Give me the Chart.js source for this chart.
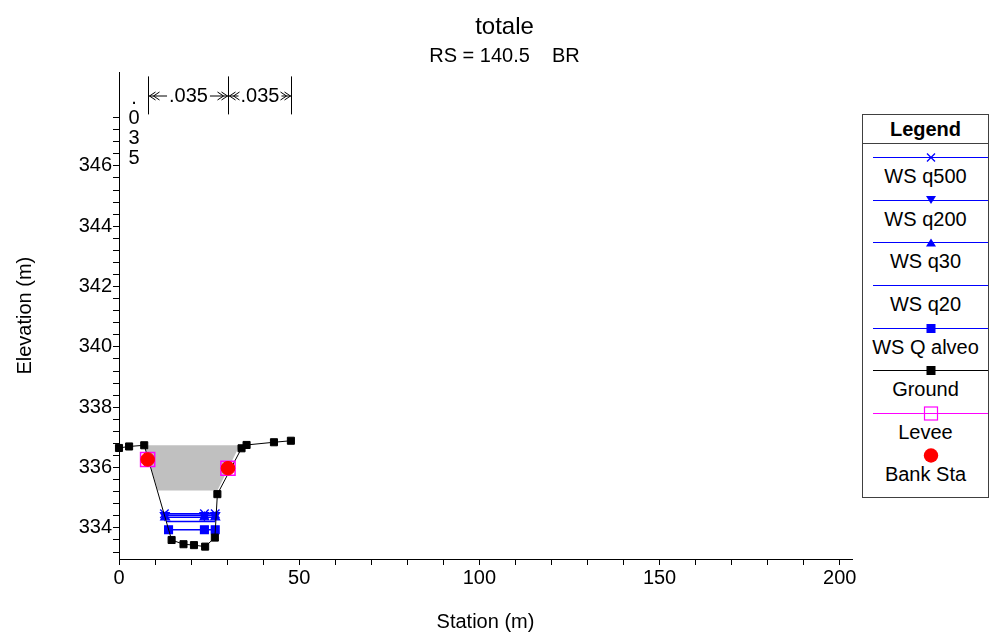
<!DOCTYPE html>
<html>
<head>
<meta charset="utf-8">
<title>totale</title>
<script src="https://cdn.jsdelivr.net/npm/chart.js@4.4.0/dist/chart.umd.min.js"></script>
<style>
  html, body { margin: 0; padding: 0; background: #fff; }
  #wrap { position: relative; width: 999px; height: 635px; }
  #xs { position: absolute; left: 0; top: 0; }
  #legend {
    position: absolute; left: 862px; top: 114px; width: 127px; height: 384px;
    box-sizing: border-box; border: 1px solid #404040; background: #fff;
    font-family: "Liberation Sans", Arial, sans-serif; font-size: 20px; color: #000;
  }
  #legend .head {
    position: absolute; left: 0; right: 0; top: 0; height: 28px; line-height: 28px;
    text-align: center; font-weight: bold; border-bottom: 1px solid #404040;
  }
  #legend svg { position: absolute; left: 0; }
  #legend .txt { position: absolute; left: 0; right: 0; height: 24px; line-height: 24px; text-align: center; white-space: nowrap; }
</style>
</head>
<body>
<div id="wrap">
  <canvas id="xs" width="999" height="635"></canvas>
  <div id="legend"><div class="head">Legend</div></div>
</div>
<script>
const FONT = '"Liberation Sans", Arial, sans-serif';

// ground profile (station m, elevation m)
const groundSta  = [0, 2.8, 7.0, 14.6, 17.9, 20.8, 23.9, 26.6, 27.3, 34.0, 35.4, 43.0, 47.7];
const groundElev = [336.65, 336.70, 336.74, 333.60, 333.46, 333.43, 333.38, 333.68, 335.12, 336.64, 336.75, 336.84, 336.89];

// bridge deck outline (grey area)
const deckSta  = [7.0, 33.5, 27.3, 10.8];
const deckElev = [336.74, 336.74, 335.24, 335.24];

// water surfaces
const wsNames = ['WS q500', 'WS q200', 'WS q30', 'WS q20', 'WS Q alveo'];
const wsElev  = [334.47, 334.42, 334.35, 334.21, 333.94];
const wsSta   = [
  [12.6, 23.7, 26.7],
  [12.7, 23.7, 26.7],
  [12.8, 23.7, 26.7],
  [13.1, 23.7, 26.7],
  [13.75, 23.7, 26.7]
];

const leveeSta  = [7.95, 30.24];
const leveeElev = [336.27, 335.98];
const bankSta   = [7.95, 30.24];
const bankElev  = [336.27, 335.98];

// manning n regions
const nBreaks = [0, 7.95, 30.24, 47.7];
const nValues = ['.035', '.035', '.035'];

// axes
const xTickLabels = [0, 50, 100, 150, 200];
const yTickLabels = [334, 336, 338, 340, 342, 344, 346];

const xTicks = [];
for (let v = 0; v <= 200; v += 10) xTicks.push(v);
const yTicks = [];
for (let v = 333.2; v <= 347.61; v += 0.4) yTicks.push(Math.round(v * 10) / 10);

const pts = (xs, ys) => xs.map((x, i) => ({ x: x, y: Array.isArray(ys) ? ys[i] : ys }));

const wsStyles = [
  { pointStyle: 'crossRot', pointRadius: 6, rotation: 0 },
  { pointStyle: 'triangle', pointRadius: 5, rotation: 180 },
  { pointStyle: 'triangle', pointRadius: 5, rotation: 0 },
  { pointStyle: 'circle', pointRadius: 0, rotation: 0 },
  { pointStyle: 'rect', pointRadius: 5.5, rotation: 0 }
];

const datasets = [];
datasets.push({
  label: 'Bank Sta', data: pts(bankSta, bankElev), showLine: false,
  pointStyle: 'circle', pointRadius: 6.8, backgroundColor: '#ff0000', borderColor: '#ff0000',
  order: 0, clip: false
});
datasets.push({
  label: 'Levee', data: pts(leveeSta, leveeElev), showLine: false,
  pointStyle: 'rect', pointRadius: 10, backgroundColor: 'rgba(0,0,0,0)', borderColor: '#ff00ff',
  pointBorderWidth: 1.5, order: 1, clip: false
});
datasets.push({
  label: 'Ground', data: pts(groundSta, groundElev), borderColor: '#000', borderWidth: 1,
  pointStyle: 'rect', pointRadius: 5, backgroundColor: '#000', pointBorderWidth: 1,
  order: 2, clip: false
});
wsNames.forEach((name, i) => {
  datasets.push({
    label: name, data: pts(wsSta[i], wsElev[i]), borderColor: '#0000ff', borderWidth: 1.5,
    backgroundColor: '#0000ff', pointBorderWidth: 1.3,
    pointStyle: wsStyles[i].pointStyle, pointRadius: wsStyles[i].pointRadius,
    pointRotation: wsStyles[i].rotation, order: 3 + i, clip: false
  });
});
datasets.push({
  label: 'deck', data: pts(deckSta, deckElev), borderWidth: 0, borderColor: 'rgba(0,0,0,0)',
  backgroundColor: '#c0c0c0', fill: 'shape', pointRadius: 0, order: 20
});

// manning n labels across the top
const nLabelPlugin = {
  id: 'nLabels',
  afterDraw(chart) {
    const { ctx, chartArea, scales: { x } } = chart;
    const top = chartArea.top + 4, bot = chartArea.top + 42, midY = chartArea.top + 23.6;
    ctx.save();
    ctx.strokeStyle = '#000';
    ctx.fillStyle = '#000';
    ctx.lineWidth = 1;
    ctx.font = '20px ' + FONT;
    ctx.textAlign = 'center';
    ctx.textBaseline = 'middle';
    nBreaks.forEach(s => {
      const px = Math.round(x.getPixelForValue(s)) + 0.5;
      ctx.beginPath(); ctx.moveTo(px, top); ctx.lineTo(px, bot); ctx.stroke();
    });
    nValues.forEach((lab, i) => {
      const x0 = Math.round(x.getPixelForValue(nBreaks[i])) + 0.5;
      const x1 = Math.round(x.getPixelForValue(nBreaks[i + 1])) + 0.5;
      const w = ctx.measureText(lab).width;
      const cx = (x0 + x1) / 2;
      if (x1 - x0 > w + 16) {
        ctx.fillText(lab, cx, midY);
        const a = cx - w / 2 - 2, b = cx + w / 2 + 2;
        ctx.beginPath();
        ctx.moveTo(x0, midY); ctx.lineTo(a, midY);
        ctx.moveTo(b, midY); ctx.lineTo(x1, midY);
        [1, 5].forEach(k => {
          ctx.moveTo(x0 + k + 6, midY - 4); ctx.lineTo(x0 + k, midY); ctx.lineTo(x0 + k + 6, midY + 4);
          ctx.moveTo(x1 - k - 6, midY - 4); ctx.lineTo(x1 - k, midY); ctx.lineTo(x1 - k - 6, midY + 4);
        });
        ctx.stroke();
      } else {
        lab.split('').forEach((ch, j) => {
          ctx.fillText(ch, cx, chartArea.top + 25.6 + j * 20);
        });
      }
    });
    ctx.restore();
  }
};

const axisFont = { family: FONT, size: 20 };

new Chart(document.getElementById('xs'), {
  type: 'line',
  data: { datasets: datasets },
  options: {
    responsive: false,
    animation: false,
    devicePixelRatio: 1,
    layout: { padding: { left: 10, right: 0, top: 0, bottom: 0 } },
    plugins: {
      legend: { display: false },
      tooltip: { enabled: false },
      title: {
        display: true, text: 'totale', color: '#000',
        font: { family: FONT, size: 24, weight: 'normal' },
        padding: { top: 12.6, bottom: 0 }
      },
      subtitle: {
        display: true, text: 'RS = 140.5    BR', color: '#000',
        font: { family: FONT, size: 20, weight: 'normal' },
        padding: { top: 2.6, bottom: 4.4 }
      }
    },
    scales: {
      x: {
        type: 'linear', min: 0, max: 203.4,
        afterFit: s => { s.height = 76; },
        afterBuildTicks: s => { s.ticks = xTicks.map(v => ({ value: v })); },
        ticks: {
          autoSkip: false, maxRotation: 0, padding: 1, color: '#000', font: axisFont,
          callback: v => xTickLabels.includes(v) ? String(v) : ''
        },
        grid: { drawOnChartArea: false, drawTicks: true, tickLength: 6, color: '#000' },
        border: { display: true, color: '#000', width: 1 },
        title: { display: true, text: 'Station (m)', color: '#000', font: axisFont, padding: { top: 0, bottom: 1 } }
      },
      y: {
        type: 'linear', min: 332.97, max: 349.1,
        afterFit: s => { s.width = 109; },
        afterBuildTicks: s => { s.ticks = yTicks.map(v => ({ value: v })); },
        ticks: {
          autoSkip: false, padding: 1, color: '#000', font: axisFont,
          callback: v => yTickLabels.includes(Math.round(v * 10) / 10) ? String(Math.round(v)) : ''
        },
        grid: { drawOnChartArea: false, drawTicks: true, tickLength: 6, color: '#000' },
        border: { display: true, color: '#000', width: 1 },
        title: { display: true, text: 'Elevation (m)', color: '#000', font: axisFont, padding: { top: 3, bottom: 0 } }
      },
      // empty right-hand strip that holds the space for the legend box
      yRight: {
        type: 'linear', position: 'right', display: true,
        afterFit: s => { s.width = 147; },
        ticks: { display: false },
        grid: { display: false, drawTicks: false },
        border: { display: false },
        title: { display: false }
      }
    }
  },
  plugins: [nLabelPlugin]
});

// legend box, drawn as html
const legendItems = [
  { label: 'WS q500', color: '#0000ff', marker: 'cross' },
  { label: 'WS q200', color: '#0000ff', marker: 'triDown' },
  { label: 'WS q30', color: '#0000ff', marker: 'triUp' },
  { label: 'WS q20', color: '#0000ff', marker: 'none' },
  { label: 'WS Q alveo', color: '#0000ff', marker: 'square' },
  { label: 'Ground', color: '#000000', marker: 'square' },
  { label: 'Levee', color: '#ff00ff', marker: 'hollow' },
  { label: 'Bank Sta', color: '#ff0000', marker: 'dot' }
];

function markerSvg(item) {
  const c = item.color;
  let s = '';
  if (item.marker !== 'dot') s += `<line x1="10" y1="8.5" x2="125" y2="8.5" stroke="${c}" stroke-width="1"/>`;
  switch (item.marker) {
    case 'cross':
      s += `<path d="M64 4.5 L72 12.5 M72 4.5 L64 12.5" stroke="${c}" stroke-width="1.3"/>`; break;
    case 'triDown':
      s += `<polygon points="63,4 73,4 68,12" fill="${c}"/>`; break;
    case 'triUp':
      s += `<polygon points="63,12.5 73,12.5 68,4.5" fill="${c}"/>`; break;
    case 'square':
      s += `<rect x="63.5" y="4" width="9" height="9" fill="${c}"/>`; break;
    case 'hollow':
      s += `<rect x="61.5" y="2" width="13" height="13" fill="none" stroke="${c}" stroke-width="1.2"/>`; break;
    case 'dot':
      s += `<circle cx="68" cy="8.5" r="7.2" fill="${c}"/>`; break;
  }
  return `<svg width="125" height="17" viewBox="0 0 125 17">${s}</svg>`;
}

const legendBox = document.getElementById('legend');
legendItems.forEach((item, i) => {
  const lineY = 42.7 + 42.6 * i;
  const key = document.createElement('div');
  key.innerHTML = markerSvg(item);
  const svg = key.firstChild;
  svg.style.top = (lineY - 8.5) + 'px';
  legendBox.appendChild(svg);
  const txt = document.createElement('div');
  txt.className = 'txt';
  txt.textContent = item.label;
  txt.style.top = (lineY + 18.5 - 12) + 'px';
  legendBox.appendChild(txt);
});
</script>
</body>
</html>
